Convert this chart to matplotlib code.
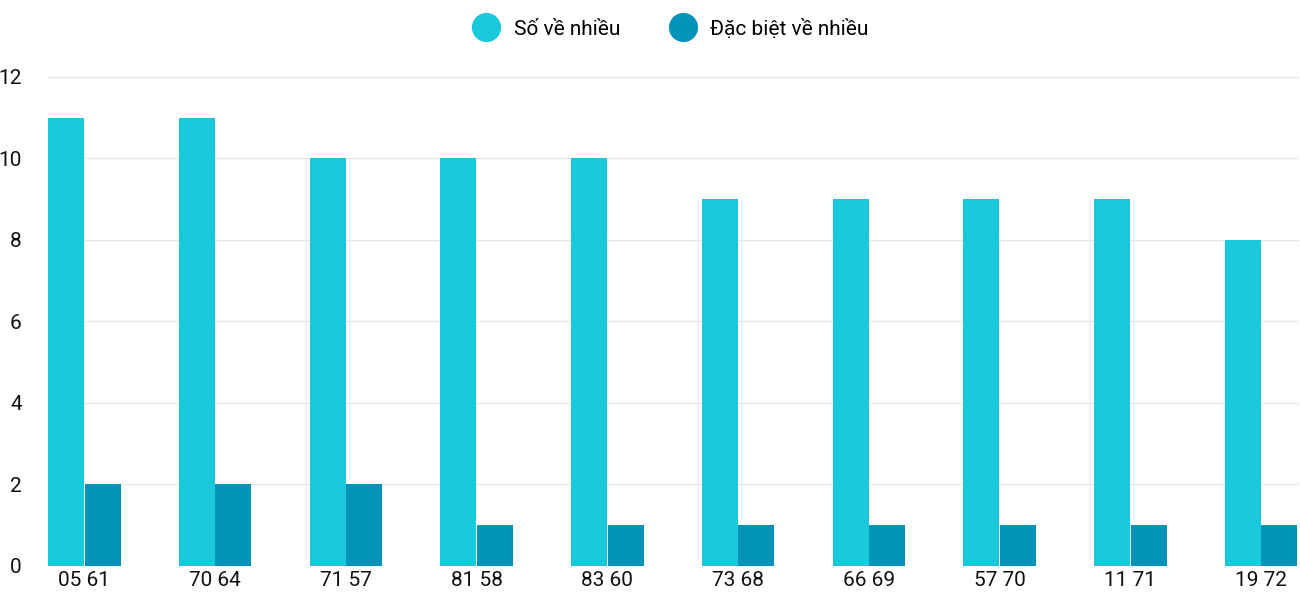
import matplotlib
matplotlib.use("Agg")
import matplotlib.pyplot as plt
from matplotlib.lines import Line2D
import numpy as np

categories = ["05 61", "70 64", "71 57", "81 58", "83 60", "73 68", "66 69", "57 70", "11 71", "19 72"]
so_ve_nhieu = [11, 11, 10, 10, 10, 9, 9, 9, 9, 8]
dac_biet = [2, 2, 2, 1, 1, 1, 1, 1, 1, 1]
series_names = ["Số về nhiều", "Đặc biệt về nhiều"]
colors = ["#1AC8DB", "#0493B8"]

plt.rcParams['font.family'] = ['Roboto', 'DejaVu Sans']
fig = plt.figure(figsize=(13, 6), dpi=100)
ax = fig.add_axes([0.036, 0.057, 0.963, 0.815])
x = np.arange(len(categories))
w = 0.275
ax.bar(x - 0.14, so_ve_nhieu, w, color=colors[0], zorder=3)
ax.bar(x + 0.14, dac_biet, w, color=colors[1], zorder=3)
ax.set_xlim(-0.2875, 9.2875)
ax.set_ylim(0, 12)
ax.set_yticks(range(0, 13, 2))
ax.set_xticks(x)
ax.set_xticklabels(categories)
ax.grid(axis='y', color='#e6e6e6', linewidth=1, zorder=0)
for s in ax.spines.values():
    s.set_visible(False)
ax.tick_params(length=0, labelsize=15, colors='#111111')
ax.tick_params(axis='y', pad=18)
ax.tick_params(axis='x', pad=4)
handles = [Line2D([], [], marker='o', linestyle='', markersize=20, color=c) for c in colors]
fig.legend(handles, series_names, loc='upper center', bbox_to_anchor=(0.513, 1.0), ncol=2,
           frameon=False, fontsize=15, handletextpad=0.3, columnspacing=2.0)
fig.savefig("out.png", dpi=100)
